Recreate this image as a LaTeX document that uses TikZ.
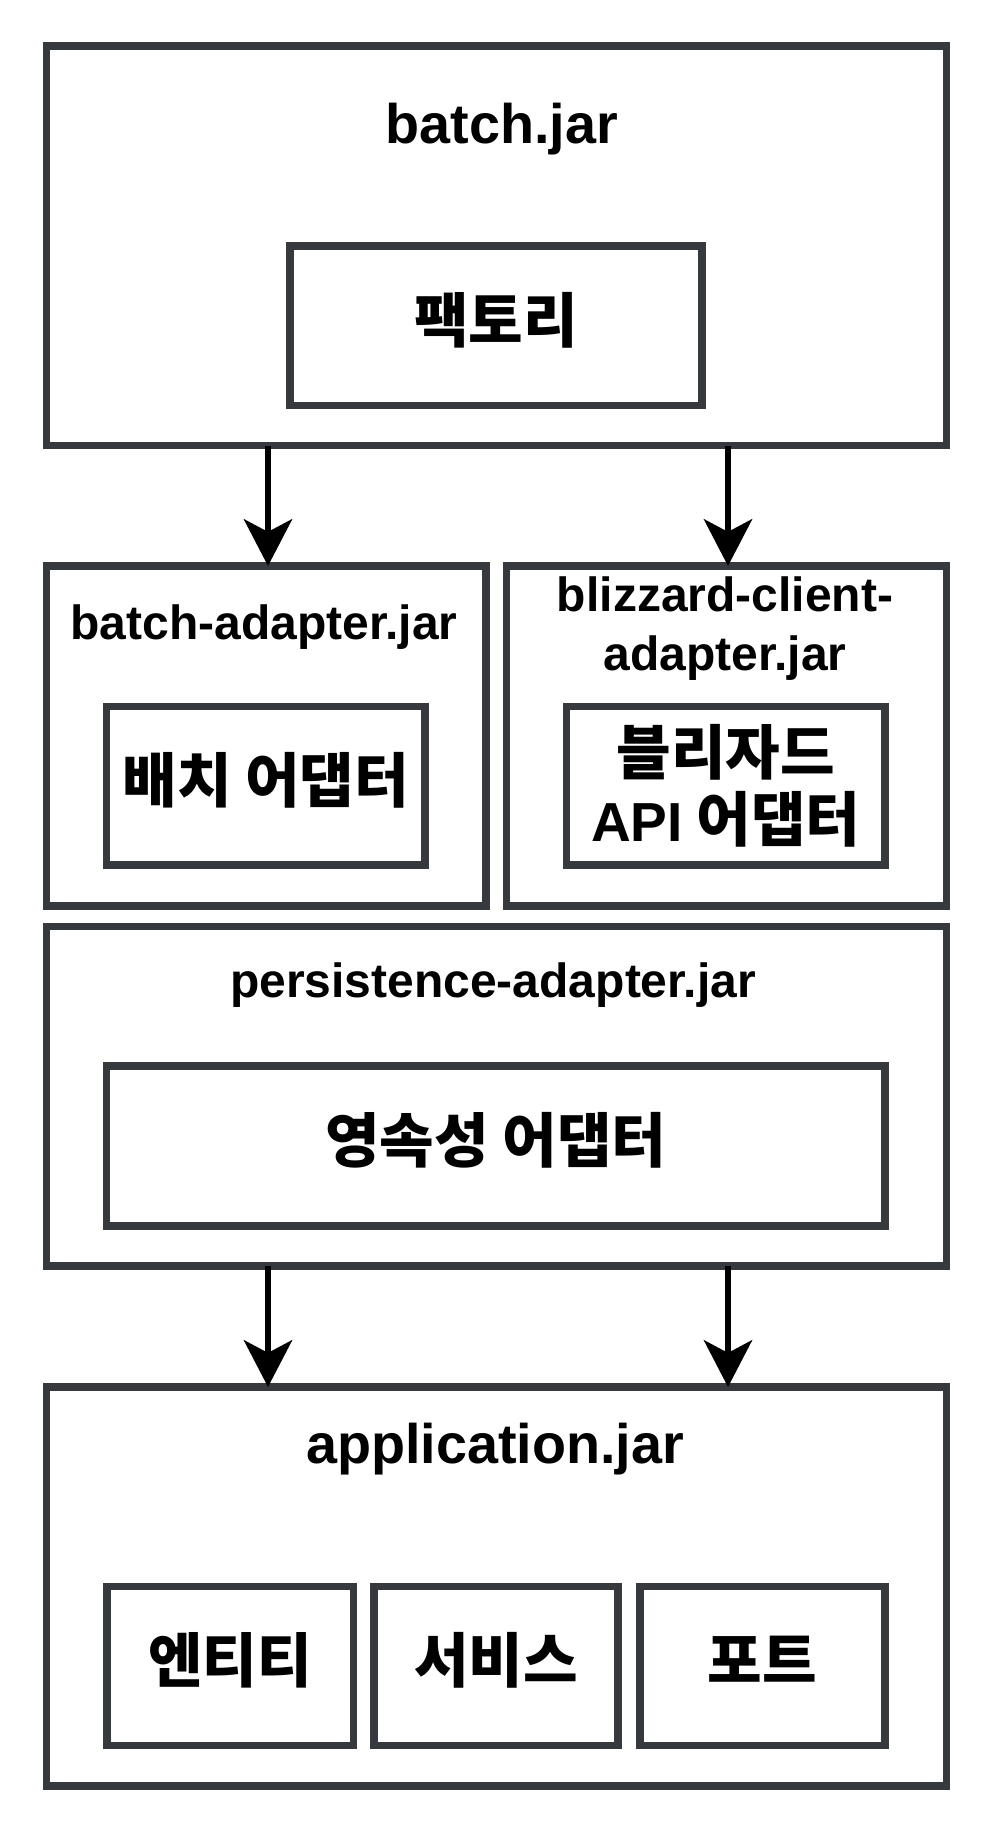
\documentclass[tikz,border=0pt]{standalone}
\usepackage{fontspec}
\setmainfont{Liberation Sans}
\newfontfamily\kr{Noto Sans CJK KR}
\usetikzlibrary{arrows.meta}
\definecolor{edgegray}{HTML}{36393D}
\tikzset{
  box/.style={draw=edgegray, line width=5.4pt, inner sep=0pt, outer sep=0pt},
  title/.style={anchor=base, inner sep=0pt, font=\bfseries\fontsize{36}{44.25}\selectfont},
  bigtitle/.style={anchor=base, inner sep=0pt, font=\bfseries\fontsize{41.8}{50}\selectfont},
  lbl/.style={font=\bfseries\kr\fontsize{44.5}{50}\selectfont, align=center},
  onelbl/.style={lbl, text height=30pt, text depth=5.2pt},
  arr/.style={draw=black, line width=5.2pt, -{Stealth[length=35pt, width=36pt, inset=9.4pt]}},
}
\begin{document}
\begin{tikzpicture}[x=0.75pt, y=-0.75pt]
\useasboundingbox (0,0) rectangle (988,1828);
\fill[white] (0,0) rectangle (988,1828);

% top container
\node[box, minimum width=675pt, minimum height=299.625pt] (batch) at (496.5,245.75) {};
\node[bigtitle] (batchT) at (502,143) {batch.jar};
\node[box, onelbl, minimum width=309pt, minimum height=119.625pt] (factory) at (496,325.75) {팩토리};

% second row
\node[box, minimum width=329.625pt, minimum height=255pt] (badapt) at (266.25,736) {};
\node[title] (badaptT) at (264,639) {batch-adapter.jar};
\node[box, onelbl, minimum width=238.875pt, minimum height=118.875pt] (badin) at (265.75,785.75) {배치 어댑터};

\node[box, minimum width=330pt, minimum height=255pt] (bliz) at (726.5,736) {};
\node[title] (blizT1) at (725,611) {blizzard-client-};
\node[title] (blizT2) at (725,670) {adapter.jar};
\node[box, lbl, minimum width=238.875pt, minimum height=118.875pt] (blizin) at (725.75,785.75)
  {블리자드\\{\fontspec{Liberation Sans}\bfseries\fontsize{41.25}{50}\selectfont API} 어댑터};

% persistence
\node[box, minimum width=675pt, minimum height=254.625pt] (persist) at (496.5,1096.25) {};
\node[title] (persistT) at (493,997) {persistence-adapter.jar};
\node[box, onelbl, minimum width=583.875pt, minimum height=120pt] (persin) at (495.75,1146) {영속성 어댑터};

% application
\node[box, minimum width=675pt, minimum height=299.25pt] (app) at (496.5,1586.5) {};
\node[bigtitle] (appT) at (495,1463) {application.jar};
\node[box, onelbl, minimum width=184.875pt, minimum height=119.25pt] (entity) at (230.25,1666) {엔티티};
\node[box, onelbl, minimum width=183pt, minimum height=119.25pt] (service) at (496,1666) {서비스};
\node[box, onelbl, minimum width=183.75pt, minimum height=119.25pt] (port) at (762.5,1666) {포트};

% arrows
\coordinate (c1) at (268,0);
\coordinate (c2) at (728,0);
\draw[arr] (batch.south -| c1) -- (badapt.north -| c1);
\draw[arr] (batch.south -| c2) -- (bliz.north -| c2);
\draw[arr] (persist.south -| c1) -- (app.north -| c1);
\draw[arr] (persist.south -| c2) -- (app.north -| c2);
\end{tikzpicture}
\end{document}
